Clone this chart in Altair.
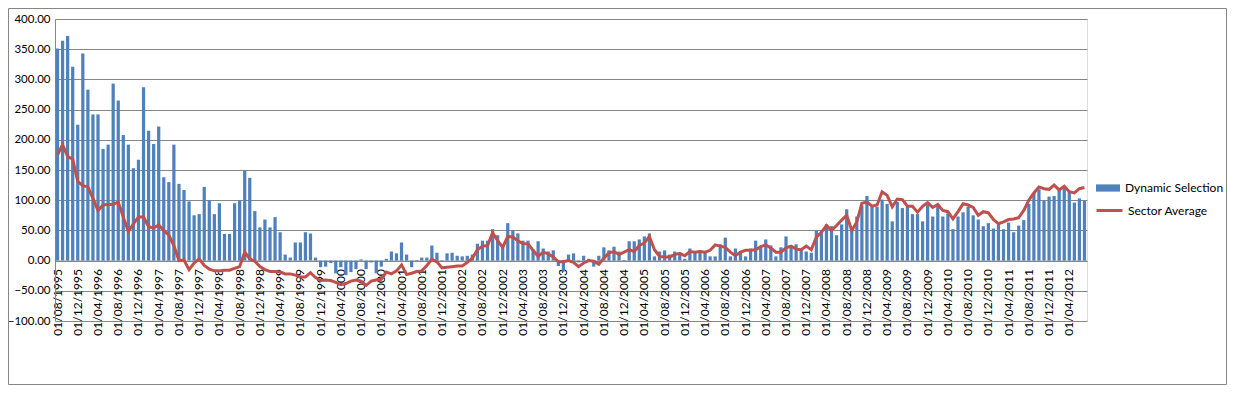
import altair as alt
import pandas as pd

dynamic_selection = [
    351, 364, 372, 321, 225, 343, 283, 242, 242, 185,
    192, 293, 265, 208, 192, 153, 167, 287, 215, 193,
    222, 138, 130, 192, 127, 117, 98, 75, 77, 122,
    100, 77, 95, 44, 44, 95, 100, 149, 137, 82,
    55, 68, 55, 72, 47, 10, 5, 30, 30, 47,
    45, 5, -11, -10, -4, -21, -11, -24, -19, -14,
    2, -14, -3, -21, -10, 3, 15, 12, 30, 10,
    -11, 1, 5, 5, 25, 13, -2, 12, 13, 8,
    7, 8, 10, 28, 33, 33, 52, 42, 25, 62,
    50, 45, 33, 33, 18, 32, 20, 15, 17, -9,
    -18, 10, 12, -3, 8, 3, -10, 8, 22, 17,
    23, 15, 1, 32, 32, 35, 40, 45, 7, 15,
    17, 10, 15, 13, 3, 20, 15, 17, 14, 7,
    7, 27, 38, 7, 20, 13, 7, 20, 33, 23,
    35, 25, 7, 22, 40, 22, 27, 18, 15, 13,
    50, 50, 60, 57, 42, 60, 85, 50, 73, 91,
    107, 89, 89, 101, 94, 65, 97, 87, 89, 77,
    77, 65, 92, 73, 90, 73, 78, 52, 73, 80,
    89, 75, 68, 57, 62, 53, 60, 52, 63, 47,
    58, 67, 94, 112, 118, 99, 106, 107, 117, 120,
    114, 96, 103, 99,
]

sector_average = [
    175, 192, 172, 168, 131, 124, 122, 103, 83, 92,
    93, 93, 97, 72, 48, 61, 72, 72, 56, 54,
    59, 50, 42, 25, 0, 1, -15, -4, 3, -8,
    -14, -17, -17, -16, -16, -13, -10, 14, 3, -1,
    -10, -15, -18, -18, -19, -22, -22, -24, -27, -27,
    -20, -28, -33, -32, -33, -36, -40, -38, -34, -32,
    -34, -41, -34, -32, -31, -19, -22, -17, -7, -23,
    -21, -18, -17, -8, 2, -2, -12, -11, -10, -9,
    -9, -3, 4, 18, 24, 25, 46, 33, 22, 40,
    39, 33, 28, 28, 17, 7, 14, 11, 6, -2,
    -2, 0, -3, -10, -4, 0, -1, -6, 4, 13,
    15, 10, 14, 18, 15, 25, 29, 40, 18, 7,
    6, 6, 10, 12, 8, 15, 14, 15, 14, 17,
    26, 24, 22, 14, 8, 14, 17, 17, 18, 23,
    26, 21, 14, 14, 21, 24, 19, 18, 24, 18,
    39, 47, 58, 50, 58, 67, 75, 50, 64, 95,
    97, 90, 92, 114, 108, 89, 102, 101, 90, 90,
    80, 90, 96, 88, 93, 83, 81, 69, 81, 94,
    92, 88, 75, 81, 79, 68, 61, 64, 68, 69,
    71, 83, 100, 112, 122, 119, 118, 125, 117, 123,
    114, 112, 119, 121,
]

series_names = ["Dynamic Selection", "Sector Average"]

months = []
yy, mm = 1995, 8
for _ in range(len(dynamic_selection)):
    months.append(f"01/{mm:02d}/{yy}")
    mm += 1
    if mm > 12:
        mm = 1
        yy += 1
tick_labels = months[::4]
y_ticks = [-100, -50, 0, 50, 100, 150, 200, 250, 300, 350, 400]

df = pd.DataFrame({
    "month": months,
    "ds": dynamic_selection,
    "sa": sector_average,
    "s1": series_names[0],
    "s2": series_names[1],
})

W, H = 1032, 302
PL, PT, PR, PB = 47, 11, 140, 64
FONT = "Lato"
GRID = "#868686"
zero_offset = -(H - H * 400 / 500)

x_axis = alt.Axis(
    values=tick_labels, labelAngle=-90, labelAlign="right", labelBaseline="middle",
    offset=zero_offset, ticks=False, domainColor=GRID, labelFont=FONT,
    labelFontSize=12, labelColor="black", labelPadding=8, title=None,
    grid=False, labelOverlap=False,
)
x_scale = alt.Scale(paddingInner=0.36, paddingOuter=0.18)

y_scale = alt.Scale(domain=[-100, 400], nice=False)
y_axis = alt.Axis(
    values=y_ticks, format=".2f", grid=True, gridColor=GRID, domainColor=GRID,
    ticks=False, labelPadding=5, title=None, labelFont=FONT, labelFontSize=11.5,
    labelColor="black", labelOverlap=False, tickCount=11,
)

base = alt.Chart(df)

bars = base.mark_bar().encode(
    x=alt.X("month:N", sort=months, scale=x_scale, axis=x_axis),
    y=alt.Y("ds:Q", scale=y_scale, axis=y_axis),
    y2=alt.datum(0),
    fill=alt.Fill(
        "s1:N",
        scale=alt.Scale(domain=[series_names[0]], range=["#4F81BD"]),
        legend=alt.Legend(
            title=None, orient="none", legendX=1041, legendY=157,
            symbolType="M-1,-0.3H1V0.3H-1Z", symbolSize=576, symbolStrokeWidth=0,
            labelFont=FONT, labelFontSize=12, labelColor="black", labelOffset=5,
            padding=0,
        ),
    ),
)

line = base.mark_line(strokeWidth=3).encode(
    x=alt.X("month:N", sort=months, scale=x_scale, axis=x_axis),
    y=alt.Y("sa:Q", scale=y_scale, axis=y_axis),
    stroke=alt.Stroke(
        "s2:N",
        scale=alt.Scale(domain=[series_names[1]], range=["#C0504D"]),
        legend=alt.Legend(
            title=None, orient="none", legendX=1040, legendY=177,
            symbolType="stroke", symbolSize=676, symbolStrokeWidth=3,
            labelFont=FONT, labelFontSize=12, labelColor="black", labelOffset=4,
            padding=0,
        ),
    ),
)

border = alt.Chart(pd.DataFrame({"a": [0]})).mark_rect(
    fillOpacity=0, stroke=GRID, strokeWidth=1
).encode(
    x=alt.value(-PL + 0.5), x2=alt.value(W + PR - 0.5),
    y=alt.value(-PT + 0.5), y2=alt.value(H + PB - 0.5),
)

chart = alt.layer(bars, line, border).properties(
    width=W, height=H,
    autosize=alt.AutoSizeParams(type="none"),
    padding={"left": PL, "top": PT, "right": PR, "bottom": PB},
).configure_view(stroke=None).configure(background="white")

chart.save("out.html", embed_options={"renderer": "svg", "actions": False})
